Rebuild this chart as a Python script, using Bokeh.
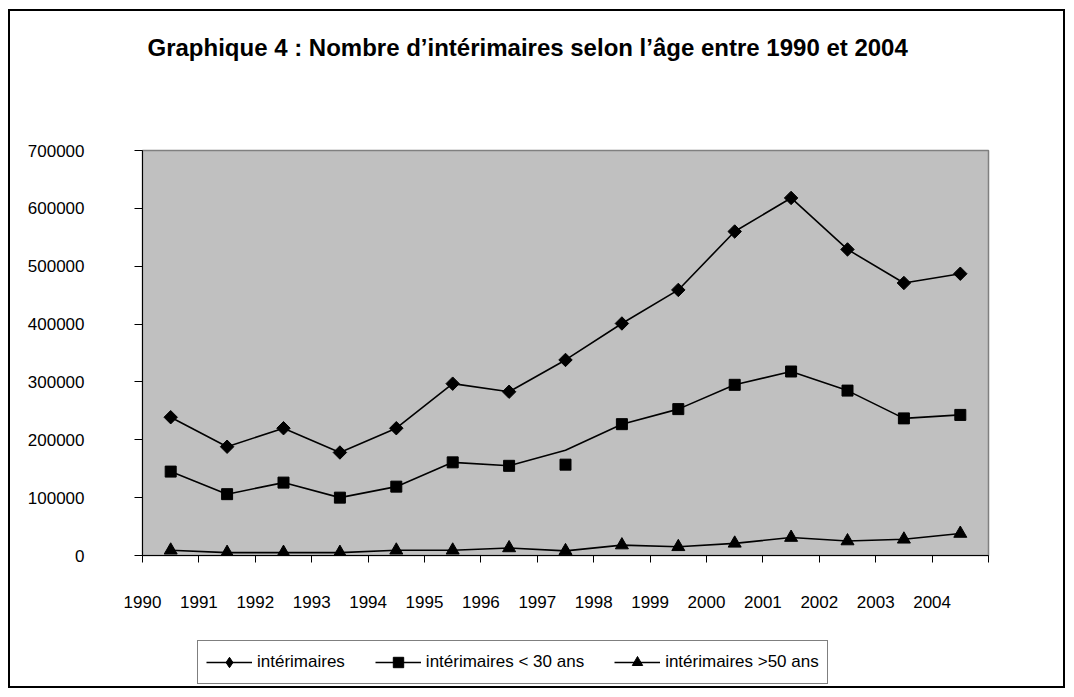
import math
from bokeh.plotting import figure
from bokeh.layouts import column
from bokeh.models import (FixedTicker, LinearAxis, Range1d, Legend, LegendItem,
                          CustomJSTickFormatter, BasicTickFormatter, Title,
                          InlineStyleSheet)
from bokeh.embed import file_html
from bokeh.resources import INLINE

# ---- data ----
years = ["1990", "1991", "1992", "1993", "1994", "1995", "1996", "1997",
         "1998", "1999", "2000", "2001", "2002", "2003", "2004"]
interimaires = [239000, 188000, 220000, 178000, 220000, 297000, 283000, 338000,
                401000, 459000, 560000, 618000, 529000, 471000, 487000]
moins30_line = [145000, 106000, 126000, 100000, 119000, 161000, 155000, 182000,
                227000, 253000, 295000, 318000, 285000, 237000, 243000]
moins30_marks = [145000, 106000, 126000, 100000, 119000, 161000, 155000, 157000,
                 227000, 253000, 295000, 318000, 285000, 237000, 243000]
plus50 = [9000, 5000, 5000, 5000, 9000, 9000, 13000, 8000,
          18000, 15000, 21000, 31000, 25000, 28000, 38000]
y_ticks = [0, 100000, 200000, 300000, 400000, 500000, 600000, 700000]
title_text = "Graphique 4 : Nombre d\u2019int\u00e9rimaires selon l\u2019\u00e2ge entre 1990 et 2004"
labels = ["int\u00e9rimaires", "int\u00e9rimaires < 30 ans", "int\u00e9rimaires >50 ans"]

n = len(years)
xs = [k + 0.5 for k in range(n)]

FONT = "Liberation Sans"
SHIFT_X = 7
SHIFT_Y = 8
W = 1066 - SHIFT_X
H_MAIN = 620 - SHIFT_Y
H_LEG = 69

fig = figure(width=W, height=H_MAIN, output_backend="svg", toolbar_location=None,
             x_range=Range1d(0, n), y_range=Range1d(0, 700000),
             x_axis_type=None, y_axis_type=None,
             min_border_left=142 - SHIFT_X, min_border_right=78,
             min_border_top=150 - SHIFT_Y, min_border_bottom=65)
fig.background_fill_color = "#C0C0C0"
fig.border_fill_color = None
fig.outline_line_color = "#808080"
fig.outline_line_width = 1.5

# spacer above the frame (keeps the title high, as in the reference)
spacer = LinearAxis(ticker=FixedTicker(ticks=[0.5]),
                    formatter=CustomJSTickFormatter(code="return ''"))
spacer.axis_line_color = None
spacer.major_tick_line_color = None
spacer.minor_tick_line_color = None
spacer.major_tick_out = 85
spacer.major_tick_in = 0
spacer.major_label_standoff = 0
spacer.major_label_text_font_size = "1px"
fig.add_layout(spacer, "above")

t = Title(text=title_text, align="left", offset=5, standoff=10,
          text_font=FONT, text_font_size="24px", text_font_style="bold",
          text_color="black")
fig.add_layout(t, "above")

# y axis
yax = LinearAxis(ticker=FixedTicker(ticks=y_ticks),
                 formatter=BasicTickFormatter(use_scientific=False))
yax.major_tick_out = 8
yax.major_tick_in = 0
yax.minor_tick_line_color = None
yax.axis_line_color = "black"
yax.major_tick_line_color = "black"
yax.major_label_standoff = 50
yax.major_label_text_font = FONT
yax.major_label_text_font_size = "17px"
yax.major_label_text_color = "black"
fig.add_layout(yax, "left")

# x axis: tick marks at the category boundaries, labels at those boundaries
xax = LinearAxis(ticker=FixedTicker(ticks=list(range(n + 1))),
                 major_label_overrides={k: (years[k] if k < n else "") for k in range(n + 1)})
xax.major_tick_out = 7
xax.major_tick_in = 0
xax.minor_tick_line_color = None
xax.axis_line_color = "black"
xax.major_tick_line_color = "black"
xax.major_label_standoff = 33
xax.major_label_text_font = FONT
xax.major_label_text_font_size = "17px"
xax.major_label_text_color = "black"
fig.add_layout(xax, "below")

# grid
fig.ygrid.ticker = FixedTicker(ticks=y_ticks)
fig.ygrid.grid_line_color = "black"
fig.ygrid.grid_line_width = 1
fig.xgrid.grid_line_color = None

# series
LW = 1.6
fig.line(xs, interimaires, line_color="black", line_width=LW)
fig.scatter(xs, interimaires, marker="square", angle=math.pi / 4, size=9.5, color="black")
fig.line(xs, moins30_line, line_color="black", line_width=LW)
fig.scatter(xs, moins30_marks, marker="square", size=11, color="black")
fig.line(xs, plus50, line_color="black", line_width=LW)
fig.scatter(xs, plus50, marker="triangle", size=13, color="black")

# ---- legend strip (below the chart); its renderers fall outside its view ----
leg = figure(width=W, height=H_LEG, output_backend="svg", toolbar_location=None,
             x_range=Range1d(-2, -1), y_range=Range1d(-2, -1),
             x_axis_type=None, y_axis_type=None,
             min_border_left=0, min_border_right=0, min_border_top=0,
             min_border_bottom=0)
leg.background_fill_color = None
leg.border_fill_color = None
leg.outline_line_color = None
leg.xgrid.visible = False
leg.ygrid.visible = False

a1 = leg.line(xs, interimaires, line_color="black", line_width=LW)
b1 = leg.scatter(xs, interimaires, marker="diamond", size=15, color="black")
a2 = leg.line(xs, moins30_line, line_color="black", line_width=LW)
b2 = leg.scatter(xs, moins30_marks, marker="square", size=10, color="black")
a3 = leg.line(xs, plus50, line_color="black", line_width=LW)
b3 = leg.scatter(xs, plus50, marker="triangle", size=12, color="black")

legend = Legend(items=[LegendItem(label=labels[0], renderers=[a1, b1]),
                       LegendItem(label=labels[1], renderers=[a2, b2]),
                       LegendItem(label=labels[2], renderers=[a3, b3])],
                orientation="horizontal", location=(55, 5))
legend.label_text_font = FONT
legend.label_text_font_size = "17px"
legend.label_text_color = "black"
legend.glyph_width = 46
legend.glyph_height = 26
legend.label_standoff = 5
legend.spacing = 30
legend.padding = 8
legend.margin = 0
legend.border_line_color = "black"
legend.border_line_width = 1
legend.background_fill_color = "white"
legend.background_fill_alpha = 1
leg.add_layout(legend, "center")

p = column(fig, leg, spacing=0)
p.stylesheets = [InlineStyleSheet(css=":host { outline: 2px solid #000; outline-offset: -3px; "
                                      "margin-left: %dpx; margin-top: %dpx; }" % (SHIFT_X, SHIFT_Y))]

open("out.html", "w").write(file_html(p, INLINE))
